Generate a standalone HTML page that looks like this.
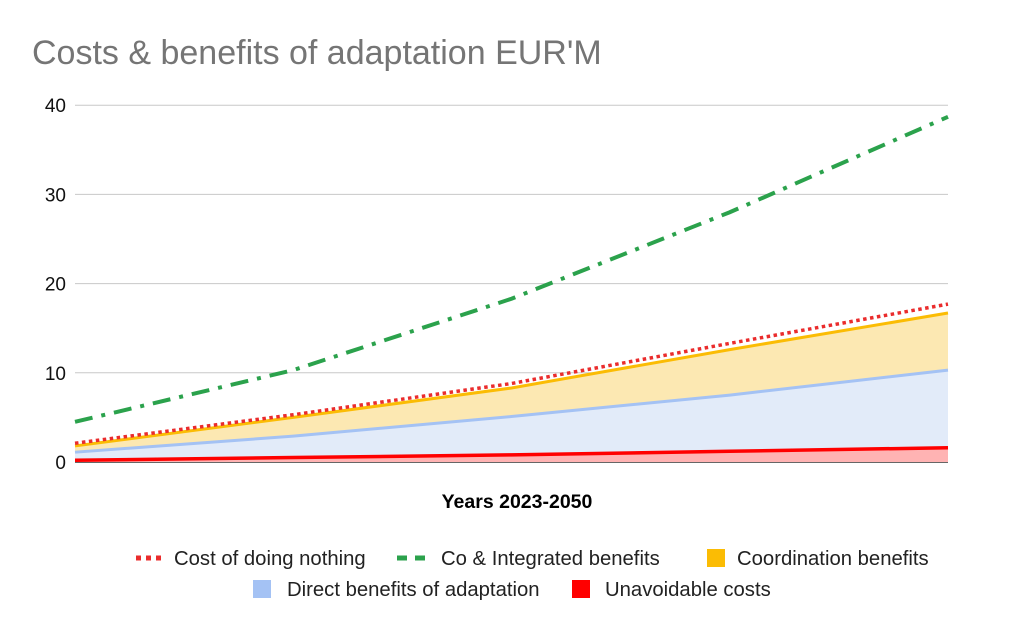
<!DOCTYPE html>
<html><head><meta charset="utf-8"><style>
body{margin:0;background:#fff;font-family:"Liberation Sans",Arial,sans-serif}
svg{display:block}
</style></head><body>
<svg width="1024" height="633">
<text x="32" y="64" font-size="34" fill="#757575">Costs &amp; benefits of adaptation EUR'M</text>
<g id="grid"></g><g id="areas"></g><g id="lines"></g><g id="labels"></g>
<text x="517" y="508" font-size="19.5" font-weight="bold" text-anchor="middle" fill="#000">Years 2023-2050</text>
<g font-size="20.3" fill="#222">
 <g><line x1="136" y1="558" x2="164" y2="558" stroke="#ea2c2c" stroke-width="5" stroke-dasharray="5,5"/><text x="174" y="565">Cost of doing nothing</text></g>
 <g><line x1="397" y1="558" x2="430" y2="558" stroke="#2ba24c" stroke-width="5" stroke-dasharray="10,8"/><text x="441" y="565">Co &amp; Integrated benefits</text></g>
 <g><rect x="707" y="549" width="18" height="18" fill="#fbbc04"/><text x="737" y="565">Coordination benefits</text></g>
 <g><rect x="253" y="580" width="18" height="18" fill="#a4c2f4"/><text x="287" y="596">Direct benefits of adaptation</text></g>
 <g><rect x="572" y="580" width="18" height="18" fill="#ff0000"/><text x="605" y="596">Unavoidable costs</text></g>
</g>
</svg>
<script>
const categories=[2023,2030,2037,2044,2050];
const costNothing=[2.1,5.3,8.8,13.3,17.7];
const coIntegrated=[4.5,10.3,18.3,28.0,38.7];
const coordination=[1.8,5.0,8.3,12.6,16.7];
const direct=[1.1,2.9,5.1,7.5,10.3];
const unavoidable=[0.2,0.5,0.8,1.2,1.6];
const yTicks=[0,10,20,30,40];
const NS="http://www.w3.org/2000/svg";
const x0=75,x1=948,yZero=462,yPer=8.92;
const X=i=>x0+(x1-x0)*i/(categories.length-1);
const Y=v=>yZero-v*yPer;
function mk(tag,attrs,parent){const e=document.createElementNS(NS,tag);for(const k in attrs)e.setAttribute(k,attrs[k]);document.getElementById(parent).appendChild(e);return e;}
yTicks.forEach(t=>{
 const g=mk('line',{x1:x0,x2:x1,y1:Y(t),y2:Y(t),stroke:t===0?'#333':'#c8c8c8','stroke-width':t===0?1.5:1},'grid');
 
 
 const l=mk('text',{x:66,y:Y(t)+7,'text-anchor':'end','font-size':19,fill:'#111'},'labels');
 l.textContent=t;
 
 
});
const pts=a=>a.map((v,i)=>X(i)+','+Y(v));
function band(top,bot,fill,name){
 const p=pts(top).concat(bot?pts(bot).reverse():[X(categories.length-1)+','+Y(0),X(0)+','+Y(0)]);
 const e=mk('polygon',{points:p.join(' '),fill:fill},'areas');
 
 
}
band(coordination,direct,'#fce8b2','area-coordination');
band(direct,unavoidable,'#e2ebf9','area-direct');
band(unavoidable,null,'#ffb3b3','area-unavoidable');
function line(a,color,w,dash,name){
 const e=mk('polyline',{points:pts(a).join(' '),fill:'none',stroke:color,'stroke-width':w,'stroke-dasharray':dash||'none'},'lines');
 
 
}
line(direct,'#a4c2f4',3,'','line-direct-benefits');
line(unavoidable,'#ff0000',3.5,'','line-unavoidable-costs');
line(coordination,'#fbbc04',3,'','line-coordination-benefits');
line(costNothing,'#ea2c2c',3.5,'3.5,3.5','line-cost-of-doing-nothing');
line(coIntegrated,'#2ba24c',4,'18,9,4,9','line-co-integrated-benefits');
</script>
</body></html>
